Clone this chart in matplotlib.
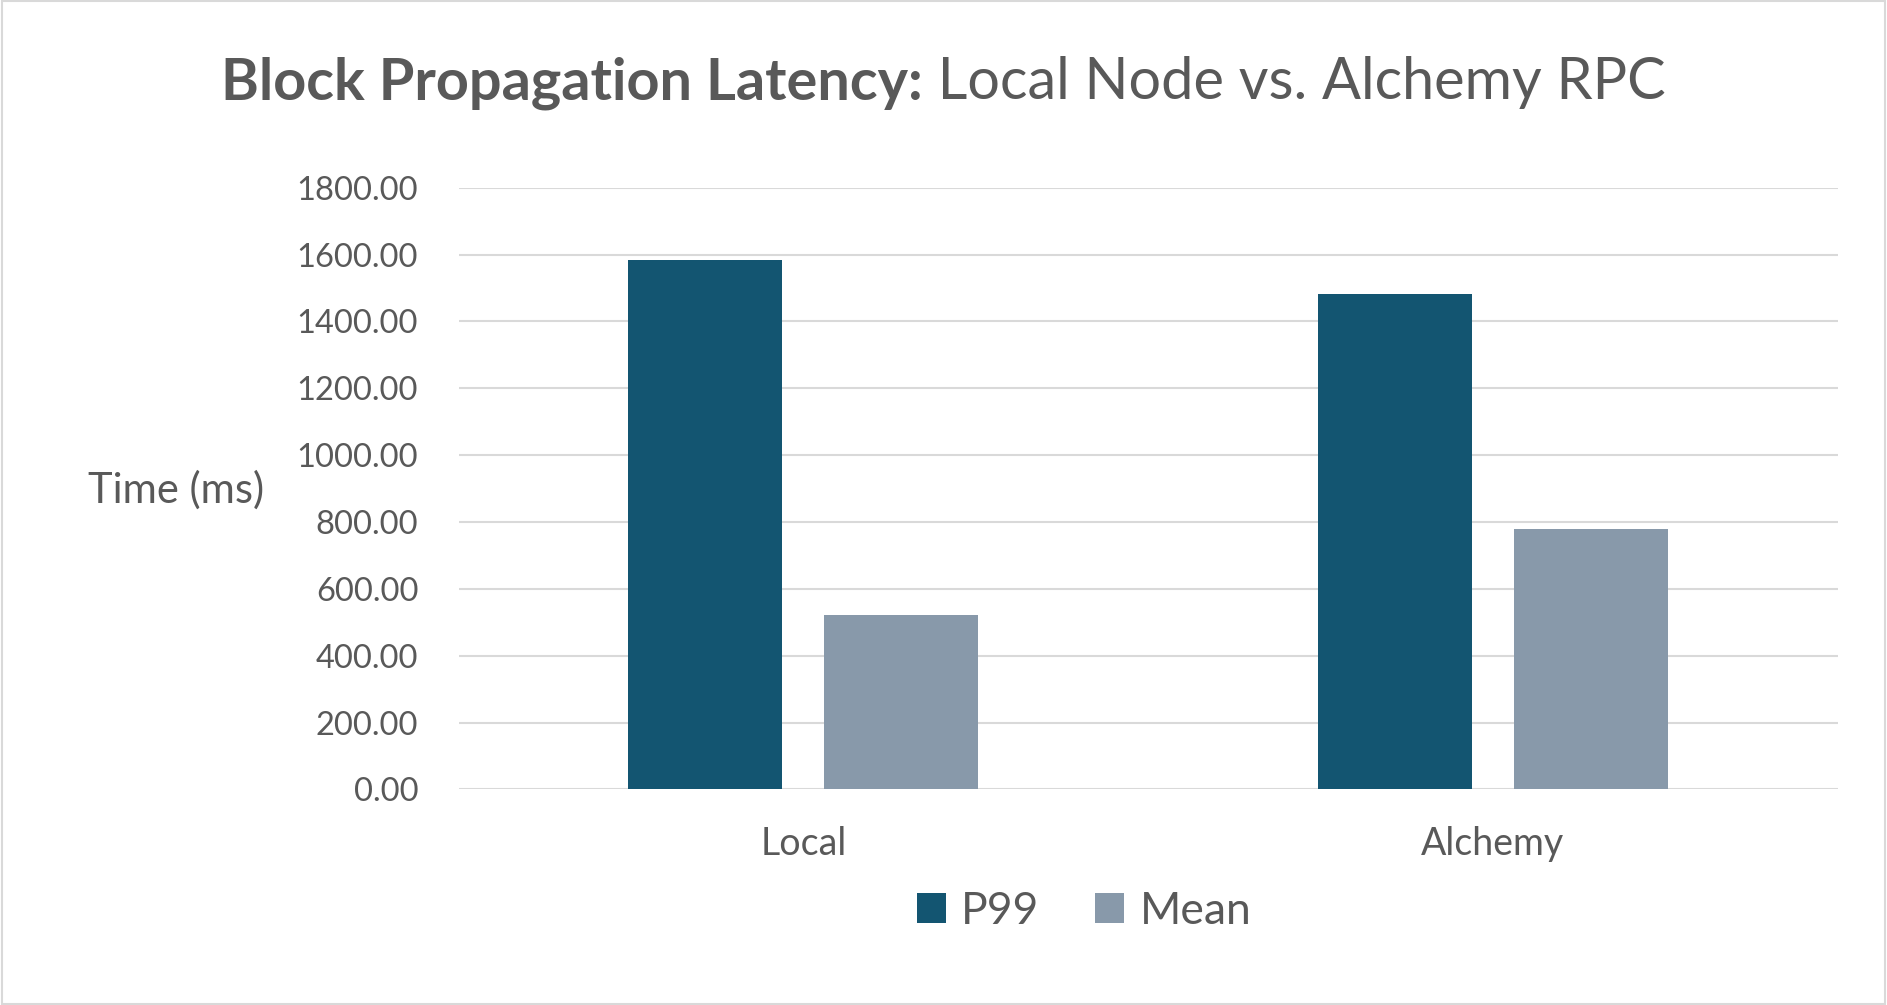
import matplotlib
matplotlib.use("Agg")
import matplotlib.pyplot as plt
from matplotlib.patches import Rectangle
import numpy as np

categories = ["Local", "Alchemy"]
p99_values = [1585, 1482]
mean_values = [521, 780]
series_names = ["P99", "Mean"]
yticks = [0, 200, 400, 600, 800, 1000, 1200, 1400, 1600, 1800]

plt.rcParams['font.family'] = ['Lato', 'DejaVu Sans']
text_color = "#595959"
grid_color = "#d9d9d9"
p99_color = "#135571"
mean_color = "#8899aa"

fig = plt.figure(figsize=(18.87, 10.05), dpi=100)
fig.patch.set_facecolor("white")
fig.patches.append(Rectangle((0.001, 0.001), 0.998, 0.998, transform=fig.transFigure,
                             fill=False, edgecolor=grid_color, linewidth=1.5))

ax = fig.add_axes([0.2430, 0.2145, 0.7308, 0.5987])
x = np.arange(len(categories))
width = 0.2234
offset = 0.142
ax.bar(x - offset, p99_values, width, color=p99_color, label=series_names[0], zorder=3)
ax.bar(x + offset, mean_values, width, color=mean_color, label=series_names[1], zorder=3)

ax.set_xlim(-0.5, 1.5)
ax.set_ylim(0, 1800)
ax.set_yticks(yticks)
ax.set_yticklabels([f"{v:.2f}" for v in yticks])
ax.set_xticks(x)
ax.set_xticklabels(categories)
ax.tick_params(axis='y', length=0, pad=29, labelsize=23.5, labelcolor=text_color)
ax.tick_params(axis='x', length=0, pad=26, labelsize=27, labelcolor=text_color)
ax.grid(axis='y', color=grid_color, linewidth=1.5, zorder=0)
for s in ax.spines.values():
    s.set_visible(False)

fig.text(0.0935, 0.4995, "Time (ms)", fontsize=30, color=text_color, ha='center', va='baseline')

# title: bold part + regular part
renderer = fig.canvas.get_renderer()
t1 = fig.text(0, 0.901, "Block Propagation Latency:", fontsize=41.5, fontweight='bold',
              color=text_color, va='baseline')
t2 = fig.text(0, 0.901, " Local Node vs. Alchemy RPC", fontsize=41.5, color=text_color, va='baseline')
w1 = t1.get_window_extent(renderer).width / fig.bbox.width
w2 = t2.get_window_extent(renderer).width / fig.bbox.width
start = 0.5 - (w1 + w2) / 2
t1.set_x(start)
t2.set_x(start + w1)

fig.legend(loc='center', bbox_to_anchor=(0.5745, 0.0935), ncol=2, frameon=False,
           fontsize=32, labelcolor=text_color, handlelength=0.65, handleheight=0.65,
           handletextpad=0.35, columnspacing=1.25)

plt.savefig("out.png", dpi=100, facecolor="white")
